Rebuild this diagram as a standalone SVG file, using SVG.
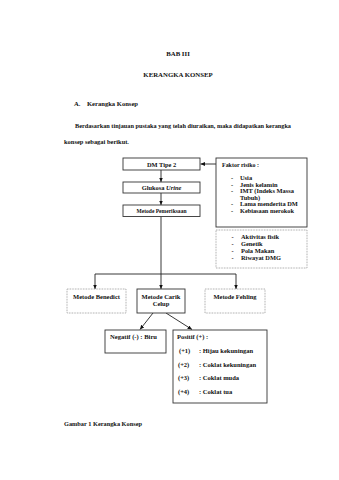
<svg xmlns="http://www.w3.org/2000/svg" width="339" height="480" viewBox="0 0 339 480">
<style>
text{font-family:"Liberation Serif","Times New Roman",serif;font-weight:bold;fill:#111}
.h{font-size:6.8px}
.p{font-size:6.6px}
.s{font-size:6.4px}
.m{font-size:6.5px}
.c{text-anchor:middle}
.box{fill:#fff;stroke:#333;stroke-width:0.9}
.dot{fill:#fff;stroke:#888;stroke-width:0.8;stroke-dasharray:0.8 0.8}
.ln{fill:none;stroke:#222;stroke-width:0.9}
</style>
<defs>
<marker id="ah" markerUnits="userSpaceOnUse" markerWidth="5" markerHeight="5" refX="4.5" refY="2" orient="auto">
<path d="M0,0 L4.5,2 L0,4 Z" fill="#111"/>
</marker>
</defs>
<rect width="339" height="480" fill="#fff"/>
<g id="header">
<text class="h c" x="178" y="55.5">BAB III</text>
<text class="h c" x="178" y="76.5">KERANGKA KONSEP</text>
<text class="p" x="74" y="105.5">A.</text>
<text class="p" x="87" y="105.5" textLength="51" lengthAdjust="spacingAndGlyphs">Kerangka Konsep</text>
<text class="p" x="75" y="127.5" textLength="216" lengthAdjust="spacingAndGlyphs">Berdasarkan tinjauan pustaka yang telah diuraikan, maka didapatkan kerangka</text>
<text class="p" x="64" y="143.5" textLength="65" lengthAdjust="spacingAndGlyphs">konsep sebagai berikut.</text>
</g>
<g id="connectors">
<line class="ln" x1="216" y1="164" x2="200.5" y2="164" marker-end="url(#ah)"/>
<line class="ln" x1="161" y1="170" x2="161" y2="182" marker-end="url(#ah)"/>
<line class="ln" x1="161" y1="193" x2="161" y2="205" marker-end="url(#ah)"/>
<polyline class="ln" points="161,216.5 161,274"/>
<line class="ln" x1="95" y1="274" x2="236" y2="274"/>
<line class="ln" x1="95" y1="274" x2="95" y2="289" marker-end="url(#ah)"/>
<line class="ln" x1="161" y1="274" x2="161" y2="289" marker-end="url(#ah)"/>
<line class="ln" x1="236" y1="274" x2="236" y2="289" marker-end="url(#ah)"/>
<line class="ln" x1="153" y1="313" x2="140" y2="329.5" marker-end="url(#ah)"/>
<line class="ln" x1="166" y1="313" x2="192" y2="329.5" marker-end="url(#ah)"/>
</g>
<g id="dm-tipe-2">
<rect class="box" x="123" y="158" width="77" height="12"/>
<text class="s c" x="161.5" y="166.5">DM Tipe 2</text>
</g>
<g id="glukosa-urine">
<rect class="box" x="123" y="182" width="77" height="11"/>
<text class="s c" x="161.5" y="190">Glukosa <tspan font-style="italic">Urine</tspan></text>
</g>
<g id="metode-pemeriksaan">
<rect class="box" x="123" y="205" width="77" height="11.5"/>
<text class="s c" x="161.5" y="213" textLength="50" lengthAdjust="spacingAndGlyphs">Metode Pemeriksaan</text>
</g>
<g id="faktor-risiko">
<rect class="box" x="216" y="158" width="91" height="69"/>
<text class="s" x="222" y="167" textLength="37" lengthAdjust="spacingAndGlyphs">Faktor risiko :</text>
<text class="s" x="231" y="180">-</text><text class="s" x="240" y="180">Usia</text>
<text class="s" x="231" y="186.5">-</text><text class="s" x="240" y="186.5">Jenis kelamin</text>
<text class="s" x="231" y="193">-</text><text class="s" x="240" y="193">IMT (Indeks Massa</text>
<text class="s" x="240" y="199.5">Tubuh)</text>
<text class="s" x="231" y="206">-</text><text class="s" x="240" y="206">Lama menderita DM</text>
<text class="s" x="231" y="212.5">-</text><text class="s" x="240" y="212.5" textLength="54" lengthAdjust="spacingAndGlyphs">Kebiasaan merokok</text>
</g>
<g id="faktor-lain">
<rect class="dot" x="216" y="230" width="91" height="38"/>
<text class="s" x="231.5" y="239">-</text><text class="s" x="241" y="239">Aktivitas fisik</text>
<text class="s" x="231.5" y="246">-</text><text class="s" x="241" y="246">Genetik</text>
<text class="s" x="231.5" y="253">-</text><text class="s" x="241" y="253">Pola Makan</text>
<text class="s" x="231.5" y="260">-</text><text class="s" x="241" y="260">Riwayat DMG</text>
</g>
<g id="metode-benedict">
<rect class="dot" x="67" y="289" width="59" height="24"/>
<text class="m c" x="96.5" y="299" textLength="47" lengthAdjust="spacingAndGlyphs">Metode Benedict</text>
</g>
<g id="metode-carik-celup">
<rect class="box" x="137" y="289" width="48" height="24"/>
<text class="m c" x="161" y="299">Metode Carik</text>
<text class="m c" x="161" y="306">Celup</text>
</g>
<g id="metode-fehling">
<rect class="dot" x="205" y="289" width="60" height="24"/>
<text class="m c" x="235" y="299" textLength="43" lengthAdjust="spacingAndGlyphs">Metode Fehling</text>
</g>
<g id="negatif">
<rect class="box" x="105" y="330" width="61" height="23"/>
<text class="m" x="110" y="339" textLength="47" lengthAdjust="spacingAndGlyphs">Negatif (-) : Biru</text>
</g>
<g id="positif">
<rect class="box" x="173" y="330" width="94" height="73"/>
<text class="m" x="177" y="339">Positif (+) :</text>
<text class="m" x="179" y="353">(+1)</text><text class="m" x="199" y="353">: Hijau kekuningan</text>
<text class="m" x="178" y="366.5">(+2)</text><text class="m" x="199" y="366.5">: Coklat kekuningan</text>
<text class="m" x="178" y="380">(+3)</text><text class="m" x="199" y="380">: Coklat muda</text>
<text class="m" x="178" y="394">(+4)</text><text class="m" x="199" y="394">: Coklat tua</text>
</g>
<g id="caption">
<text class="p" x="64" y="426" textLength="78" lengthAdjust="spacingAndGlyphs">Gambar 1 Kerangka Konsep</text>
</g>
</svg>
